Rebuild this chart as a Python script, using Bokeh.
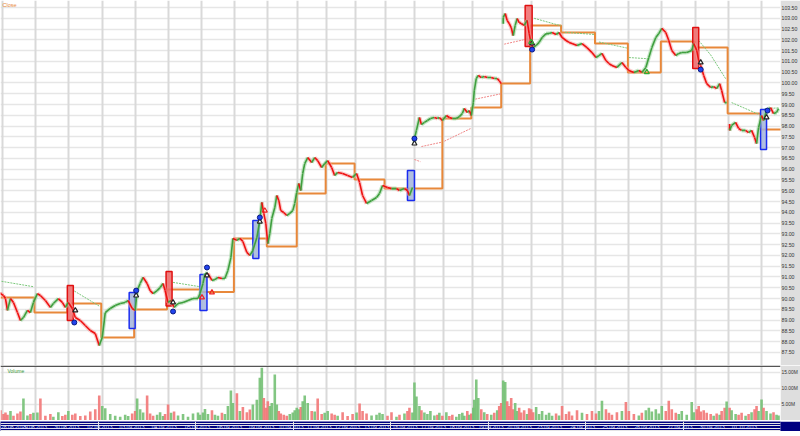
from bokeh.plotting import figure
from bokeh.models import Range1d, FixedTicker, PrintfTickFormatter, Grid, Span, Label, ColumnDataSource
from bokeh.layouts import column
from bokeh.embed import file_html
from bokeh.resources import INLINE
from bokeh.core.properties import value

# ---------------- data ----------------
day_labels = ["28.08.2013", "29.08.2013", "30.08.2013", "02.09.2013", "03.09.2013", "04.09.2013",
              "05.09.2013", "06.09.2013", "09.09.2013", "10.09.2013", "11.09.2013", "12.09.2013",
              "13.09.2013", "16.09.2013", "17.09.2013", "18.09.2013", "19.09.2013", "20.09.2013",
              "23.09.2013", "24.09.2013", "25.09.2013", "26.09.2013", "27.09.2013", "30.09.2013",
              "01.10.2013"]
day_start = [2, 35, 68, 102, 135, 168, 202, 235, 268, 298, 327, 356, 386, 415, 444, 473, 503, 532,
             563, 597, 630, 663, 697, 730, 763]
ref_level = [90.05, 89.35, 89.77, 88.19, 89.49, 90.42, 90.30, 92.79, 92.41, 94.87, 96.26, 95.52,
             95.10, 95.10, 98.35, 98.86, 99.98, 102.67, 102.34, 101.83, 100.49, 101.92, 101.64,
             98.58, 97.84]

bars = ([0, 3, 5, 7, 10, 13, 17, 20, 23, 27, 30, 33]
        + [37, 40, 45, 50, 53, 58, 62, 65]
        + [68, 72, 75, 80, 85, 90, 95, 99]
        + [102, 105, 110, 115, 120, 125, 128, 132]
        + [135, 137, 140, 143, 147, 150, 153, 157, 160, 163, 165]
        + [168, 171, 174, 178, 183, 188, 193, 198, 200]
        + [203, 205, 208, 212, 215, 218, 222, 225, 228, 231, 233]
        + [237, 240, 243, 247, 250, 253, 257, 260, 262, 264, 266]
        + [268, 270, 272, 275, 277, 279, 281, 284, 287, 290, 293, 295, 297]
        + [299, 301, 303, 305, 308, 312, 315, 318, 322, 325]
        + [328, 332, 335, 338, 343, 348, 353]
        + [357, 360, 363, 367, 372, 377, 380, 383]
        + [388, 392, 397, 400, 405, 408, 410, 413]
        + [415, 417, 420, 422, 425, 428, 431, 435, 438, 440, 443]
        + [447, 450, 453, 457, 460, 463, 465, 468, 470, 472]
        + [474, 475, 477, 479, 482, 485, 488, 492, 495, 498, 500, 502]
        + [504, 506, 508, 510, 512, 514, 516, 518, 520, 522, 525, 528, 530]
        + [532, 534, 537, 540, 543, 547, 550, 553, 557, 560]
        + [563, 567, 570, 573, 578, 583, 588, 593]
        + [597, 600, 603, 607, 610, 613, 618, 623, 627]
        + [630, 635, 640, 643, 647, 650, 653, 657, 660]
        + [663, 667, 670, 673, 677, 680, 683, 688, 693, 695]
        + [698, 700, 702, 705, 708, 712, 715, 718, 721, 723, 726, 728]
        + [731, 733, 737, 740, 743, 747, 750, 753, 756, 758, 760]
        + [763, 765, 768, 772, 775, 778, 780])

closes = ([90.23, 90.14, 90.00, 89.45, 90.00, 89.82, 89.35, 88.98, 89.12, 89.45, 89.35, 89.82]
          + [90.23, 90.14, 89.91, 89.59, 89.77, 90.00, 89.82, 89.59]
          + [89.82, 89.54, 89.12, 88.98, 88.75, 88.52, 88.38, 87.82]
          + [88.19, 89.35, 89.54, 89.68, 89.77, 89.82, 89.91, 89.54]
          + [89.45, 90.37, 90.70, 90.98, 90.70, 90.37, 90.23, 90.37, 90.51, 90.70, 90.37]
          + [89.82, 89.91, 89.59, 89.77, 89.82, 89.91, 90.00, 90.00, 90.23]
          + [90.70, 91.16, 91.16, 90.84, 90.88, 90.98, 90.93, 90.93, 91.30, 91.90, 92.79]
          + [92.70, 92.79, 92.65, 92.14, 92.00, 92.23, 92.83, 93.62, 94.46, 93.95, 93.48]
          + [92.55, 93.02, 93.71, 94.22, 94.78, 94.55, 94.08, 93.99, 93.85, 93.95, 94.08, 94.41, 94.92]
          + [95.34, 95.01, 95.80, 96.26, 96.54, 96.31, 96.54, 96.40, 96.08, 96.26]
          + [96.40, 96.08, 95.71, 95.85, 95.80, 95.71, 95.62]
          + [95.80, 95.38, 94.78, 94.41, 94.55, 94.69, 94.87, 95.24]
          + [95.15, 95.10, 95.10, 95.01, 95.10, 95.01, 94.78, 95.15]
          + [97.42, 97.80, 98.40, 98.07, 98.17, 98.26, 98.35, 98.40, 98.35, 98.40, 98.26]
          + [98.49, 98.40, 98.35, 98.35, 98.44, 98.58, 98.82, 98.63, 98.72, 98.49]
          + [99.09, 99.65, 100.21, 100.35, 100.25, 100.30, 100.25, 100.25, 100.21, 100.21, 100.11, 99.97]
          + [103.04, 103.22, 102.90, 102.76, 102.57, 102.20, 102.67, 102.99, 102.80, 102.76, 102.67, 102.90, 102.29]
          + [101.83, 101.64, 101.74, 101.88, 102.11, 102.29, 102.29, 102.34, 102.25, 102.34]
          + [102.11, 101.97, 101.88, 101.83, 101.74, 101.83, 101.64, 101.41]
          + [101.18, 101.27, 101.37, 101.04, 100.90, 100.81, 100.72, 100.95, 100.72]
          + [100.58, 100.49, 100.58, 100.49, 100.72, 101.18, 101.64, 102.11, 102.29]
          + [102.53, 102.34, 101.97, 101.51, 101.27, 101.37, 101.41, 101.41, 101.51, 101.83]
          + [101.51, 101.04, 100.81, 100.35, 99.97, 99.79, 99.83, 99.74, 99.97, 99.65, 99.09, 99.09]
          + [97.80, 98.03, 98.17, 97.89, 97.80, 97.80, 97.70, 97.80, 97.47, 97.19, 97.93]
          + [98.49, 98.26, 98.72, 98.86, 98.58, 98.63, 98.81])

volumes_m = ([3.2, 2.0, 2.5, 1.8, 3.0, 1.5, 2.2, 2.8, 6.9, 1.6, 2.0, 2.4]
             + [2.5, 6.9, 1.5, 2.0, 1.2, 2.6, 1.4, 1.8]
             + [3.0, 1.8, 2.2, 1.4, 1.6, 2.8, 3.5, 7.8]
             + [4.5, 3.8, 2.0, 1.5, 1.2, 1.8, 1.4, 2.2]
             + [3.0, 6.9, 3.5, 2.5, 7.8, 2.2, 1.5, 1.8, 2.6, 1.4, 2.0]
             + [5.0, 2.4, 2.8, 1.6, 2.0, 1.2, 2.2, 2.5, 1.8]
             + [2.5, 3.6, 2.0, 3.2, 1.8, 1.5, 2.4, 2.0, 4.5, 9.4, 5.5]
             + [8.5, 3.0, 4.2, 2.6, 3.4, 5.0, 6.5, 13.4, 16.5, 7.0, 4.0]
             + [6.0, 4.5, 5.5, 14.4, 5.0, 3.0, 2.2, 1.8, 1.5, 2.0, 2.5, 3.2, 4.0]
             + [3.5, 4.2, 6.0, 7.8, 5.5, 3.0, 2.8, 6.9, 2.0, 2.4]
             + [3.0, 2.2, 1.8, 1.5, 2.6, 1.4, 2.0]
             + [2.5, 5.3, 3.0, 2.2, 1.6, 1.8, 2.4, 2.0]
             + [1.5, 2.6, 1.2, 1.8, 2.2, 3.0, 4.0, 2.5]
             + [11.9, 7.5, 4.5, 3.2, 2.5, 2.0, 3.0, 1.6, 1.8, 2.4, 1.5]
             + [2.6, 1.4, 1.8, 1.2, 2.0, 2.4, 1.5, 3.0, 1.8, 2.2]
             + [4.0, 6.5, 12.8, 7.0, 3.5, 2.6, 2.0, 1.8, 2.4, 3.2, 4.5, 5.5]
             + [12.5, 12.0, 6.0, 4.5, 7.0, 3.5, 5.5, 3.0, 4.0, 2.5, 3.2, 2.0, 3.8]
             + [3.5, 2.6, 4.2, 2.0, 3.0, 1.8, 2.4, 1.5, 2.2, 1.6]
             + [4.5, 2.0, 2.8, 1.6, 3.2, 2.4, 2.0, 3.0]
             + [2.2, 3.0, 6.2, 3.5, 2.4, 1.8, 2.6, 3.0, 5.8]
             + [3.0, 2.0, 1.6, 2.4, 3.2, 4.0, 2.8, 3.5, 2.2]
             + [4.5, 3.0, 6.2, 3.5, 2.4, 2.0, 3.0, 1.8, 5.8, 2.6]
             + [3.5, 4.5, 2.8, 3.2, 2.4, 2.0, 1.5, 2.2, 1.8, 3.0, 4.0, 5.9]
             + [4.0, 3.2, 2.0, 1.8, 2.4, 1.5, 2.0, 2.6, 3.5, 4.5, 3.0]
             + [6.6, 4.0, 3.0, 2.2, 2.6, 1.8, 1.6])

gap_open = {415: 97.20, 504: 102.75, 731: 98.10}

# intraday average line segments (colour, bars, prices)
avg_color = ["g", "g", "g", "r", "r", "r", "r", "r", "g", "g", "g", "g", "g", "g", "g"]
avg_bars = [[1, 33], [74, 99], [173, 200], [415, 421], [422, 442], [445, 472], [476, 502],
            [505, 529], [535, 562], [566, 595], [600, 628], [630, 650], [700, 712, 727],
            [733, 760], [766, 781]]
avg_price = [[90.80, 90.55], [90.35, 89.65], [90.75, 90.55], [96.45, 96.35], [97.05, 97.25],
             [97.30, 97.90], [99.25, 99.50], [101.80, 102.05], [103.00, 102.65], [102.35, 102.25],
             [101.90, 101.62], [101.18, 101.12], [101.97, 101.30, 100.20], [99.09, 98.55],
             [98.80, 98.85]]

# signal boxes
sig_left = [67, 129, 166, 200, 253, 408, 526, 694, 762]
sig_right = [73, 135, 172, 207, 259, 415, 533, 700, 768]
sig_top = [90.60, 90.28, 91.26, 91.12, 93.62, 95.94, 103.59, 102.57, 98.77]
sig_bottom = [88.98, 88.61, 89.65, 89.45, 91.86, 94.55, 101.69, 100.67, 96.91]
sig_kind = ["sell", "buy", "sell", "buy", "buy", "buy", "sell", "sell", "buy"]

dot_bars = [74, 136, 173, 207, 260, 415, 533, 702, 769]
dot_price = [88.89, 90.37, 89.40, 91.44, 93.76, 97.42, 101.55, 100.62, 98.72]
hook_bars = [75, 136, 173, 207, 260, 415, 533, 702, 768]
hook_price = [89.45, 90.14, 89.82, 91.07, 93.57, 97.19, 101.83, 100.95, 98.40]
red_mark_bars = [202, 212, 265]
red_mark_price = [90.05, 90.28, 94.08]
green_mark_bars = [532, 648]
green_mark_price = [101.90, 100.50]

last_price = 98.81
ref_last = 97.84
last_volume = 1.60

price_ticks = [87.5 + 0.5 * i for i in range(33)]
volume_ticks = [5, 10, 15]

assert len(bars) == len(closes) == len(volumes_m)

# ---------------- derived candle pieces ----------------
x0, y0, x1, y1, col, halo = [], [], [], [], [], []
vcol = []
for i in range(len(bars)):
    if i == 0:
        o, xo = closes[0] + 0.05, bars[0]
    elif bars[i] in gap_open:
        o, xo = gap_open[bars[i]], bars[i]
    else:
        o, xo = closes[i - 1], bars[i - 1]
    up = closes[i] >= o
    x0.append(xo); y0.append(o); x1.append(bars[i]); y1.append(closes[i])
    col.append("#3f9f3f" if up else "#ee1111")
    halo.append("#9ad49a" if up else "#f7a0a0")
    vcol.append("#74c074" if up else "#f27777")

candles = ColumnDataSource(dict(x0=x0, y0=y0, x1=x1, y1=y1, col=col, halo=halo))
vols = ColumnDataSource(dict(x=bars, top=volumes_m, col=vcol))

FONT = "Liberation Sans"
W = 800
AX = 18
X0, X1 = 0, W - AX
GRID_H = "#e6e6e6"
GRID_V = "#d9d9d9"
AXIS_BG = "#dedede"


def style_axis(ax, ticks, fmt, size):
    ax.ticker = FixedTicker(ticks=ticks)
    ax.formatter = PrintfTickFormatter(format=fmt)
    ax.major_label_text_font = FONT
    ax.major_label_text_font_size = size
    ax.major_label_text_color = "#333333"
    ax.axis_line_color = None
    ax.major_tick_line_color = None
    ax.minor_tick_line_color = None
    ax.major_tick_out = 0
    ax.major_tick_in = 0
    ax.major_label_standoff = 1


# ---------------- price panel ----------------
p = figure(width=W, height=365, x_range=Range1d(X0, X1), y_range=Range1d(86.895, 103.825),
           output_backend="svg", toolbar_location=None, x_axis_location=None,
           y_axis_location="right", min_border=0, min_border_right=AX,
           border_fill_color=AXIS_BG, background_fill_color="white", outline_line_color=None)
p.xgrid.visible = False
p.ygrid.visible = False
p.add_layout(Grid(dimension=1, ticker=FixedTicker(ticks=price_ticks), grid_line_color=GRID_H,
                  grid_line_width=1.5))
p.add_layout(Grid(dimension=0, ticker=FixedTicker(ticks=day_start), grid_line_color=GRID_V,
                  grid_line_width=2))
style_axis(p.yaxis[0], price_ticks, "%.2f", "5.2px")

# reference level (orange steps)
step_x = [0] + [s - 1 for s in day_start[1:]] + [X1 + 5]
step_y = ref_level + [ref_level[-1]]
p.step(x=step_x, y=step_y, mode="after", line_color="#e8883a", line_width=2)

# intraday average lines
for c, bx, py in zip(avg_color, avg_bars, avg_price):
    p.line(bx, py, line_color="#7cc87c" if c == "g" else "#f08a8a", line_width=1,
           line_dash="2 1")

# signal boxes
sells = [i for i, k in enumerate(sig_kind) if k == "sell"]
buys = [i for i, k in enumerate(sig_kind) if k == "buy"]
p.quad(left=[sig_left[i] for i in sells], right=[sig_right[i] for i in sells],
       top=[sig_top[i] for i in sells], bottom=[sig_bottom[i] for i in sells],
       fill_color="#ee6a6a", fill_alpha=0.85, line_color="#e01010", line_width=1.5)
p.quad(left=[sig_left[i] for i in buys], right=[sig_right[i] for i in buys],
       top=[sig_top[i] for i in buys], bottom=[sig_bottom[i] for i in buys],
       fill_color="#a3b4dc", fill_alpha=0.85, line_color="#1a2cf0", line_width=1.5)

# price (candles)
p.segment(x0="x0", y0="y0", x1="x1", y1="y1", source=candles, line_color="halo",
          line_width=4, line_alpha=0.55)
p.segment(x0="x0", y0="y0", x1="x1", y1="y1", source=candles, line_color="col",
          line_width=1.6)

# markers
p.scatter(hook_bars, hook_price, marker="triangle", size=5, fill_color="white",
          line_color="#222222", line_width=1.2)
p.scatter(dot_bars, dot_price, marker="circle", size=5, fill_color="#2244ee",
          line_color="#0a1a80", line_width=1)
p.scatter(red_mark_bars, red_mark_price, marker="triangle", size=5, fill_color=None,
          line_color="#ee2222", line_width=1.2)
p.scatter(green_mark_bars, green_mark_price, marker="triangle", size=5, fill_color=None,
          line_color="#33aa33", line_width=1.2)

p.add_layout(Label(x=2, y=103.62, text="Close", text_font=FONT, text_font_size="5.5px",
                   text_color="#e8883a", text_baseline="middle"))
p.add_layout(Label(x=X1 + 1, y=last_price, text="%.2f" % last_price, text_font=FONT,
                   text_font_size="5.2px", text_color="white", text_baseline="middle",
                   background_fill_color="#111111", padding=1))
p.add_layout(Label(x=X1 + 1, y=ref_last, text="%.2f" % ref_last, text_font=FONT,
                   text_font_size="5.2px", text_color="white", text_baseline="middle",
                   background_fill_color="#e8883a", padding=1))

# ---------------- volume panel ----------------
v = figure(width=W, height=55, x_range=p.x_range, y_range=Range1d(0, 17.19),
           output_backend="svg", toolbar_location=None, x_axis_location=None,
           y_axis_location="right", min_border=0, min_border_right=AX,
           border_fill_color=AXIS_BG, background_fill_color="white", outline_line_color=None)
v.xgrid.visible = False
v.ygrid.visible = False
v.add_layout(Grid(dimension=1, ticker=FixedTicker(ticks=volume_ticks), grid_line_color=GRID_H,
                  grid_line_width=1.5))
v.add_layout(Grid(dimension=0, ticker=FixedTicker(ticks=day_start), grid_line_color=GRID_V,
                  grid_line_width=2))
style_axis(v.yaxis[0], volume_ticks, "%.2fM", "4.9px")
v.vbar(x="x", top="top", width=2.6, source=vols, fill_color="col", line_color=None,
       fill_alpha=0.9)
v.add_layout(Span(location=16.95, dimension="width", line_color="#555555", line_width=1.5))
v.add_layout(Label(x=7, y=15.4, text="Volume", text_font=FONT, text_font_size="5px",
                   text_color="#3a9a3a", text_baseline="middle"))
v.add_layout(Label(x=X1 + 1, y=last_volume, text="%.2fM" % last_volume, text_font=FONT,
                   text_font_size="4.9px", text_color="white", text_baseline="middle",
                   background_fill_color="#2a9a2a", border_line_color="#106010", padding=1))

# ---------------- date band ----------------
d = figure(width=W, height=11, x_range=Range1d(0, W), y_range=Range1d(0, 1),
           output_backend="svg", toolbar_location=None, x_axis_location=None,
           y_axis_location=None, min_border=0, border_fill_color="#000080",
           background_fill_color="#000080", outline_line_color=None)
label_x = [0.5] + day_start[1:]
label_align = ["left"] + ["center"] * (len(day_start) - 1)
d.text(x=label_x, y=[0.5] * len(day_start), text=day_labels, text_font=value(FONT),
       text_font_size="5px", text_color="#dfe0ff", text_align=label_align,
       text_baseline="middle")

# ---------------- scrollbar strip ----------------
s = figure(width=W, height=5, x_range=Range1d(0, W), y_range=Range1d(0, 1),
           output_backend="svg", toolbar_location=None, x_axis_location=None,
           y_axis_location=None, min_border=0, border_fill_color="#eeeeee",
           background_fill_color="#eeeeee", outline_line_color=None)
s.quad(left=[786], right=[795], top=[1], bottom=[0], fill_color="#c4c4c4", line_color=None)

layout = column(p, v, d, s, spacing=0)
open("out.html", "w").write(file_html(layout, INLINE))
